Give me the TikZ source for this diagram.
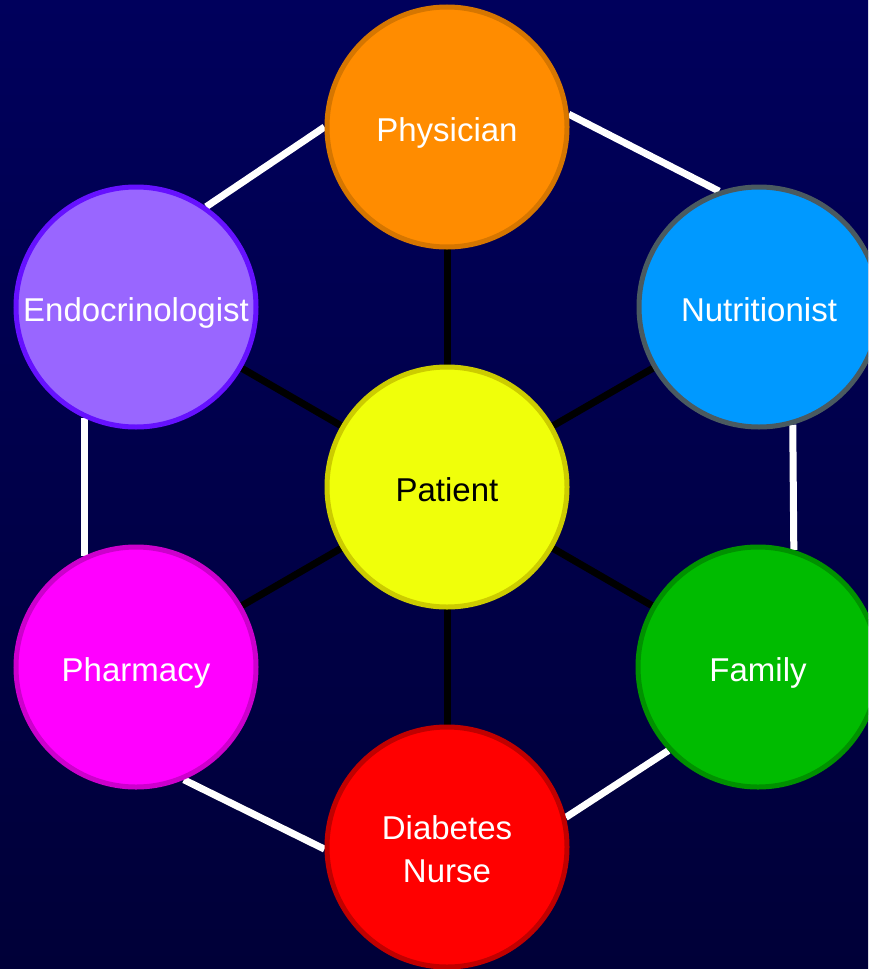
\documentclass[tikz,border=0pt]{standalone}
\usepackage{fontspec}
\setmainfont{Liberation Sans}
\pgfdeclarelayer{back}
\pgfdeclarelayer{links}
\pgfsetlayers{back,links,main}

\definecolor{bgTop}{RGB}{0,0,92}
\definecolor{bgBot}{RGB}{0,0,56}
\definecolor{cPhys}{RGB}{255,140,0}   \definecolor{dPhys}{RGB}{214,118,0}
\definecolor{cNutr}{RGB}{0,153,255}   \definecolor{dNutr}{RGB}{74,90,96}
\definecolor{cEndo}{RGB}{153,102,255} \definecolor{dEndo}{RGB}{102,17,255}
\definecolor{cPat}{RGB}{240,255,10}   \definecolor{dPat}{RGB}{204,204,0}
\definecolor{cNurse}{RGB}{255,0,0}    \definecolor{dNurse}{RGB}{192,0,0}
\definecolor{cFam}{RGB}{0,187,0}      \definecolor{dFam}{RGB}{0,145,0}
\definecolor{cPharm}{RGB}{255,0,255}  \definecolor{dPharm}{RGB}{204,0,204}

\begin{document}
\begin{tikzpicture}[x=1pt,y=-1pt,
  member/.style={circle, inner sep=0pt, minimum size=240pt, line width=5pt,
    font=\fontsize{33}{43}\selectfont, text=white, align=center,
    text height=28pt, text depth=0pt},
  spoke/.style={line width=7pt, black},
  ring/.style={line width=7pt, white}]

\useasboundingbox (0,0) rectangle (868,969);
\clip (0,0) rectangle (868,969);

% care team members
\node[member, fill=cPhys,  draw=dPhys]  (phys)  at (447,127) {Physician};
\node[member, fill=cNutr,  draw=dNutr]  (nutr)  at (759,307) {Nutritionist};
\node[member, fill=cFam,   draw=dFam]   (fam)   at (758,667) {Family};
\node[member, fill=cNurse, draw=dNurse, text height=71pt] (nurse) at (447,847) {Diabetes\\Nurse};
\node[member, fill=cPharm, draw=dPharm] (pharm) at (136,667) {Pharmacy};
\node[member, fill=cEndo,  draw=dEndo]  (endo)  at (136,307) {Endocrinologist};
\node[member, fill=cPat,   draw=dPat, text=black] (pat) at (447,487) {Patient};

\begin{pgfonlayer}{back}
  \shade[top color=bgTop, bottom color=bgBot] (0,0) rectangle (868,969);
\end{pgfonlayer}

\begin{pgfonlayer}{links}
  % spokes from the patient
  \foreach \m in {phys,nutr,fam,nurse,pharm,endo}
    \draw[spoke] (pat.center) -- (\m.center);
  % outer ring
  \draw[ring] (endo.55)   -- (phys.180);
  \draw[ring] (phys.6)    -- (nutr.109);
  \draw[ring] (nutr.286)  -- (fam.73);
  \draw[ring] (fam.223)   -- (nurse.14);
  \draw[ring] (nurse.181) -- (pharm.293);
  \draw[ring] (pharm.115) -- (endo.245);
\end{pgfonlayer}
\end{tikzpicture}
\end{document}
